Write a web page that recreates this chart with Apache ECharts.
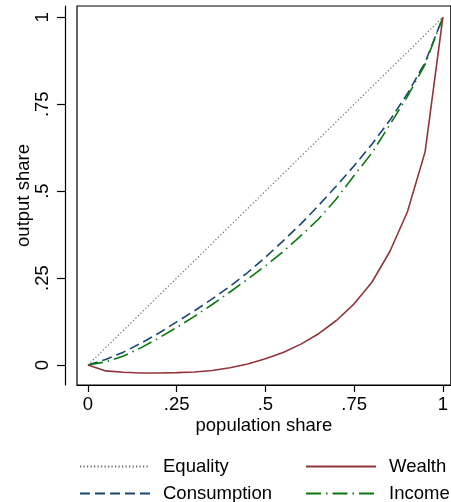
<!DOCTYPE html>
<html>
<head>
<meta charset="utf-8">
<script src="https://cdn.jsdelivr.net/npm/echarts@6/dist/echarts.min.js"></script>
<style>html,body{margin:0;padding:0;background:#fff}#c{width:451px;height:502px}</style>
</head>
<body>
<div id="c"></div>
<script>
var popShare = [0,0.05,0.1,0.15,0.2,0.25,0.3,0.35,0.4,0.45,0.5,0.55,0.6,0.65,0.7,0.75,0.8,0.85,0.9,0.95,1];
var equality = [0,0.05,0.1,0.15,0.2,0.25,0.3,0.35,0.4,0.45,0.5,0.55,0.6,0.65,0.7,0.75,0.8,0.85,0.9,0.95,1];
var wealth = [0,-0.017,-0.021,-0.023,-0.023,-0.022,-0.02,-0.016,-0.008,0.003,0.018,0.036,0.06,0.09,0.128,0.176,0.238,0.325,0.44,0.613,1];
var consumption = [0,0.016,0.037,0.063,0.092,0.124,0.156,0.19,0.226,0.266,0.31,0.357,0.406,0.459,0.515,0.573,0.635,0.703,0.78,0.87,1];
var income = [0,0.009,0.026,0.05,0.078,0.108,0.14,0.174,0.21,0.247,0.285,0.326,0.372,0.42,0.478,0.545,0.61,0.69,0.772,0.865,1];
var tickValues = [0,0.25,0.5,0.75,1];
var tickLabels = ['0','.25','.5','.75','1'];

function pairs(ys){ return popShare.map(function(x,i){ return [x, ys[i]]; }); }
function fmt(v){ var i = tickValues.indexOf(+v.toFixed(4)); return i>=0 ? tickLabels[i] : ''; }

var FONT = "Arial, 'Liberation Sans', sans-serif";
var FS = 18.5;
var chart = echarts.init(document.getElementById('c'), null, {renderer:'canvas'});
var legendText = {color:'#000', fontFamily:FONT, fontSize:FS, padding:[0,0,0,8]};
function leg(name, left, top){
  return {data:[name], left:left, top:top, itemWidth:70, itemHeight:14, textStyle:legendText,
          itemStyle:{opacity:0, borderWidth:0}, selectedMode:false};
}
chart.setOption({
  animation:false,
  backgroundColor:'#fff',
  grid:{left:77, top:6, right:-2, bottom:117, show:true, borderColor:'#000', borderWidth:1.2, containLabel:false},
  xAxis:{
    type:'value', min:-0.031, max:1.0225,
    name:'population share', nameLocation:'middle', nameGap:31, nameMoveOverlap:false,
    nameTextStyle:{color:'#000', fontFamily:FONT, fontSize:FS},
    axisLine:{show:true, onZero:false, lineStyle:{color:'#000', width:1.2}},
    axisTick:{show:true, length:7, customValues:tickValues, lineStyle:{color:'#000', width:1.2}},
    axisLabel:{customValues:tickValues, formatter:fmt, margin:10, color:'#000', fontFamily:FONT, fontSize:FS},
    splitLine:{show:false}
  },
  yAxis:{
    type:'value', min:-0.0575, max:1.0325, offset:12,
    name:'output share', nameLocation:'middle', nameGap:32, nameMoveOverlap:false,
    nameTextStyle:{color:'#000', fontFamily:FONT, fontSize:FS},
    axisLine:{show:true, onZero:false, lineStyle:{color:'#000', width:1.2}},
    axisTick:{show:true, length:8, customValues:tickValues, lineStyle:{color:'#000', width:1.2}},
    axisLabel:{customValues:tickValues, formatter:fmt, rotate:90, margin:13, color:'#000', fontFamily:FONT, fontSize:FS},
    splitLine:{show:false}
  },
  legend:[
    leg('Equality', 74, 452),
    leg('Wealth', 300, 452),
    leg('Consumption', 74, 479),
    leg('Income', 300, 479)
  ],
  series:[
    {name:'Equality', type:'line', data:pairs(equality), symbol:'none', lineStyle:{color:'#666666', width:1.2, type:[1.2,2.3]}, itemStyle:{color:'#666666'}},
    {name:'Consumption', type:'line', data:pairs(consumption), symbol:'none', lineStyle:{color:'#1a476f', width:1.6, type:[10,5]}, itemStyle:{color:'#1a476f'}},
    {name:'Income', type:'line', data:pairs(income), symbol:'none', lineStyle:{color:'#0a780a', width:1.6, type:[15,5,1.5,5]}, itemStyle:{color:'#0a780a'}},
    {name:'Wealth', type:'line', data:pairs(wealth), symbol:'none', lineStyle:{color:'#90353b', width:1.6}, itemStyle:{color:'#90353b'}}
  ]
});
</script>
</body>
</html>
